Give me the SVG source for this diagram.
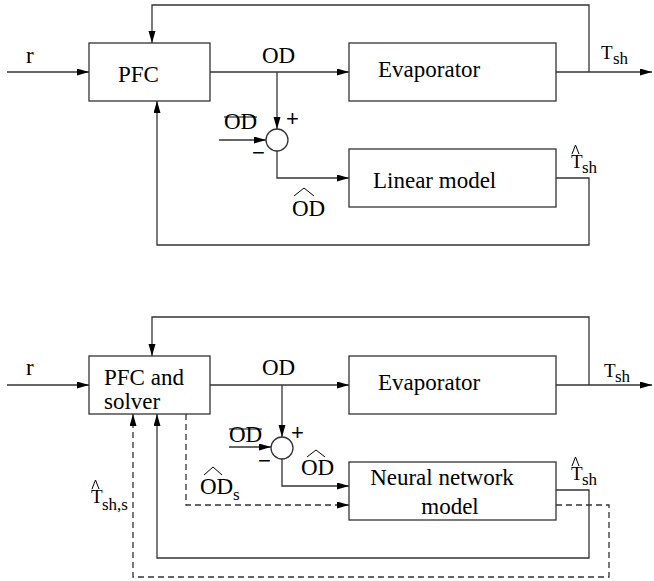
<svg xmlns="http://www.w3.org/2000/svg" width="654" height="581" viewBox="0 0 654 581" font-family="'Liberation Serif', 'Times New Roman', Times, serif">
  <defs>
    <marker id="arrow" markerUnits="userSpaceOnUse" markerWidth="13" markerHeight="8" refX="12" refY="3.5" orient="auto">
      <path d="M0,0 L12,3.5 L0,7 Z" fill="#000"/>
    </marker>
    <style>
      .box { fill: #fff; stroke: #333; stroke-width: 1.3; }
      .wire { fill: none; stroke: #333; stroke-width: 1.3; }
      .dash { fill: none; stroke: #333; stroke-width: 1.3; stroke-dasharray: 6 4; }
      .arr { marker-end: url(#arrow); }
      .acc { fill: none; stroke: #000; stroke-width: 1; }
      .lbl { font-size: 23px; fill: #000; }
      .sym { font-size: 19px; fill: #000; }
      .sub { font-size: 17px; fill: #000; }
      .sign { font-size: 22px; fill: #000; }
    </style>
  </defs>

  <!-- ===== Upper scheme: PFC with linear model ===== -->
  <g id="connectors-top">
    <path class="wire arr" d="M7,72 H89"/>
    <path class="wire arr" d="M210,72 H349"/>
    <path class="wire arr" d="M556,72 H652"/>
    <path class="wire arr" d="M589,72 V5 H152 V43"/>
    <path class="wire arr" d="M277,72 V129"/>
    <path class="wire arr" d="M219,140 H266"/>
    <path class="wire arr" d="M277,151 V178 H349"/>
    <path class="wire arr" d="M556,178 H589 V245 H157 V101"/>
  </g>

  <g id="pfc">
    <rect class="box" x="89" y="43" width="121" height="58"/>
    <text class="lbl" x="118" y="82">PFC</text>
  </g>
  <g id="evaporator">
    <rect class="box" x="349" y="43" width="207" height="58"/>
    <text class="lbl" x="378" y="77">Evaporator</text>
  </g>
  <g id="linear-model">
    <rect class="box" x="349" y="149" width="207" height="58"/>
    <text class="lbl" x="373" y="188">Linear model</text>
  </g>
  <g id="sum-top" font-family="'Liberation Sans', Arial, sans-serif">
    <circle class="box" cx="277" cy="140" r="11"/>
    <text class="sign" x="286" y="126">+</text>
    <text class="sign" x="252" y="160">−</text>
  </g>

  <g id="labels-top">
    <text class="lbl" x="26" y="63">r</text>
    <text class="lbl" x="262" y="63">OD</text>
    <text class="lbl" x="224" y="129">OD</text>
    <line class="acc" x1="224" y1="117" x2="257" y2="117"/>
    <text class="lbl" x="292" y="216">OD</text>
    <polyline class="acc" points="294,196 304,188 314,196"/>
    <text class="sym" x="601" y="59">T</text>
    <text class="sub" x="613" y="64">sh</text>
    <polyline class="acc" points="572,154 575.5,145 579,154"/>
    <text class="sym" x="571" y="168">T</text>
    <text class="sub" x="582" y="173">sh</text>
  </g>

  <!-- ===== Lower scheme: PFC and solver with neural network model ===== -->
  <g id="connectors-bottom">
    <path class="wire arr" d="M7,385 H89"/>
    <path class="wire arr" d="M210,385 H349"/>
    <path class="wire arr" d="M556,385 H652"/>
    <path class="wire arr" d="M589,385 V317 H152 V356"/>
    <path class="wire arr" d="M282,385 V437"/>
    <path class="wire arr" d="M229,447 H271"/>
    <path class="wire arr" d="M282,459 V486 H349"/>
    <path class="wire arr" d="M556,490 H589 V558 H157 V414"/>
    <path class="dash arr" d="M186,414 V505 H349"/>
    <path class="dash arr" d="M556,505 H609 V577 H133 V414"/>
  </g>

  <g id="pfc-solver">
    <rect class="box" x="89" y="356" width="121" height="58"/>
    <text class="lbl" x="104" y="385">PFC and</text>
    <text class="lbl" x="104" y="409">solver</text>
  </g>
  <g id="evaporator-2">
    <rect class="box" x="349" y="356" width="207" height="58"/>
    <text class="lbl" x="378" y="390">Evaporator</text>
  </g>
  <g id="nn-model">
    <rect class="box" x="349" y="462" width="207" height="58"/>
    <text class="lbl" x="442" y="485" text-anchor="middle">Neural network</text>
    <text class="lbl" x="450" y="514" text-anchor="middle">model</text>
  </g>
  <g id="sum-bottom" font-family="'Liberation Sans', Arial, sans-serif">
    <circle class="box" cx="282" cy="448" r="11"/>
    <text class="sign" x="291" y="440">+</text>
    <text class="sign" x="258" y="468">−</text>
  </g>

  <g id="labels-bottom">
    <text class="lbl" x="26" y="375">r</text>
    <text class="lbl" x="262" y="375">OD</text>
    <text class="lbl" x="229" y="442">OD</text>
    <line class="acc" x1="229" y1="429" x2="262" y2="429"/>
    <text class="lbl" x="301" y="475">OD</text>
    <polyline class="acc" points="307,457 316,450 325,457"/>
    <text class="lbl" x="200" y="494">OD</text>
    <text class="sub" x="233" y="500">s</text>
    <polyline class="acc" points="204,475 213,467 222,475"/>
    <text class="sym" x="604" y="377">T</text>
    <text class="sub" x="615" y="382">sh</text>
    <polyline class="acc" points="572,466 575.5,457 579,466"/>
    <text class="sym" x="571" y="480">T</text>
    <text class="sub" x="582" y="485">sh</text>
    <polyline class="acc" points="92,489 95.5,480 99,489"/>
    <text class="sym" x="91" y="503">T</text>
    <text class="sub" x="102" y="510">sh,s</text>
  </g>
</svg>
